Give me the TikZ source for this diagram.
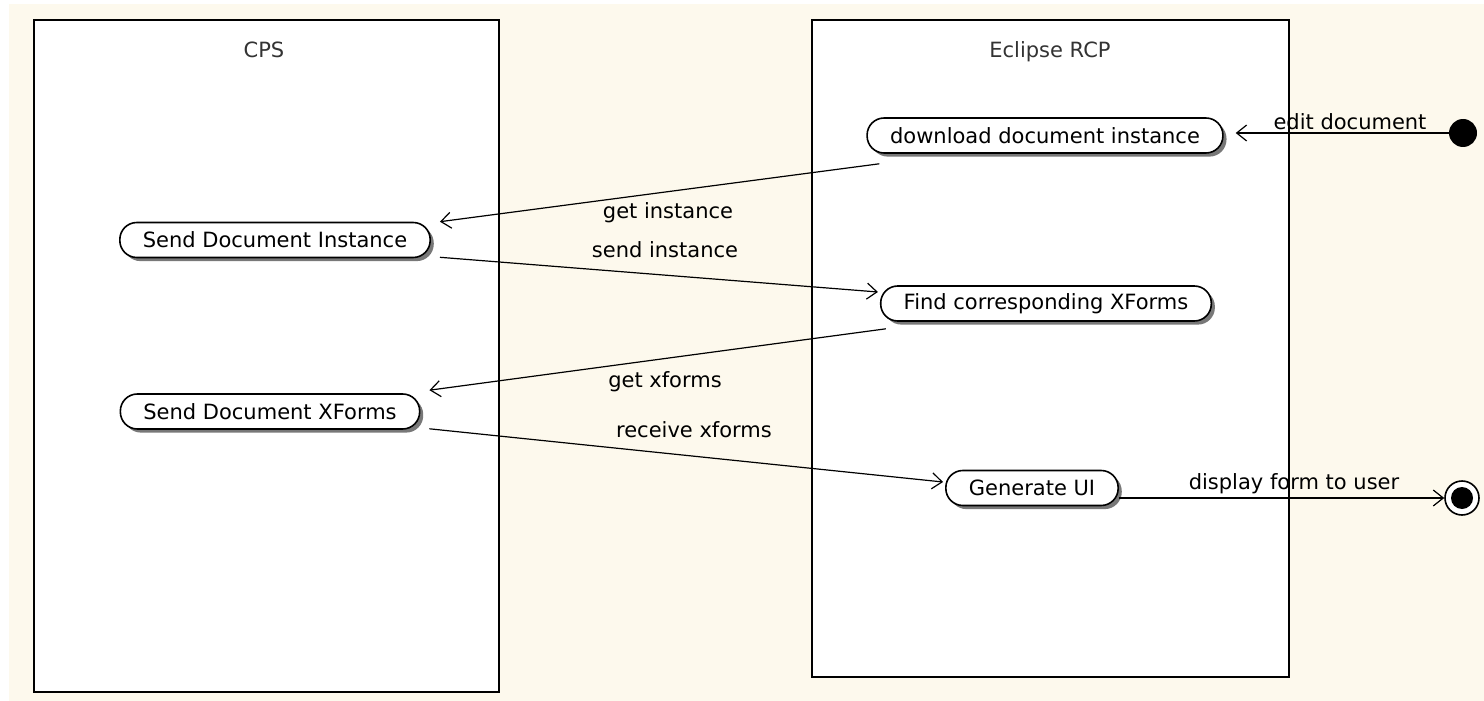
\documentclass[tikz,border=0pt]{standalone}
\usepackage{fontspec}
\setmainfont{DejaVu Sans}
\usepackage{xcolor}
\usetikzlibrary{arrows.meta,shadows}
\definecolor{cream}{RGB}{253,249,237}

\begin{document}
\begin{tikzpicture}[x=0.5pt,y=-0.5pt,font=\fontsize{10.5}{12}\selectfont,
		lane/.style={draw,line width=1pt,fill=white},
		actstate/.style={draw,line width=0.8pt,fill=white,rounded corners=8.5pt,
			minimum height=17.5pt,inner xsep=11.5pt,inner ysep=2pt,
			drop shadow={shadow xshift=1.8pt,shadow yshift=-1.8pt,fill=black!75,opacity=0.7}},
		initstate/.style={circle,fill=black,inner sep=0pt,minimum size=14pt},
		finalstate/.style={circle,draw,line width=0.8pt,fill=white,inner sep=0pt,minimum size=17pt,
			path picture={\fill[black] (path picture bounding box.center) circle (5.5pt);}},
		flow/.style={line width=0.6pt,-{Straight Barb[length=5pt,width=8pt]}},
		lbl/.style={anchor=base,inner sep=0pt}]
		% Canvas
		\useasboundingbox (0,0) rectangle (1484,701);
		\fill[white] (0,0) rectangle (1484,701);
		\fill[cream] (9,4) rectangle (1484,701);
		
		% Swimlanes
		\draw[lane] (34,20) rectangle (499,692);
		\draw[lane] (812,20) rectangle (1289,677);
		\node[lbl,black!80] (tcps) at (264,58) {CPS};
		\node[lbl,black!80] (trcp) at (1050,58) {Eclipse RCP};
		
		% Activities
		\node[actstate] (dl) at (1045,135.5) {download document instance};
		\node[actstate] (sdi) at (275,240) {Send Document Instance};
		\node[actstate] (fcx) at (1046,303.5) {Find corresponding XForms};
		\node[actstate] (sdx) at (270,411.5) {Send Document XForms};
		\node[actstate] (gui) at (1032,488) {Generate UI};
		
		% Start and end
		\node[initstate] (start) at (1463,133) {};
		\node[finalstate] (fin) at (1462,498) {};
		
		% Transitions
		\draw[flow] (start) -- ([xshift=6]dl.east |- start);
		\draw[flow] ([shift={(13,10)}]dl.south west) -- ([shift={(9,0)}]sdi.north east);
		\draw[flow] ([shift={(9,-1)}]sdi.south east) -- ([shift={(-2,-11.5)}]fcx.west);
		\draw[flow] ([shift={(6,7)}]fcx.south west) -- ([shift={(9,-3)}]sdx.north east);
		\draw[flow] ([shift={(9,-1)}]sdx.south east) -- ([shift={(-2,-6)}]gui.west);
		\draw[flow] (gui.east |- fin) -- (fin);
		
		% Transition labels
		\node[lbl] (ledit) at (1350,130) {edit document};
		\node[lbl] (lgi) at (668,219) {get instance};
		\node[lbl] (lsi) at (665,257) {send instance};
		\node[lbl] (lgx) at (665,387) {get xforms};
		\node[lbl] (lrx) at (694,437) {receive xforms};
		\node[lbl] (ldisp) at (1294,489) {display form to user};
	\end{tikzpicture}
\end{document}
